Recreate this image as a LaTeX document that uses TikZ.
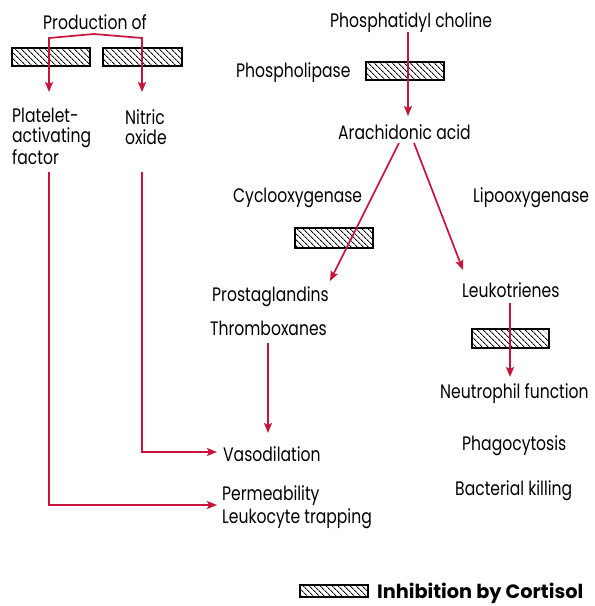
\documentclass[tikz,border=0pt]{standalone}
\usepackage{fontspec}
\setmainfont[FakeStretch=0.8]{Poppins}
\newfontfamily\legfont{Poppins}
\usetikzlibrary{arrows.meta,patterns.meta}
\definecolor{cred}{RGB}{200,20,60}
\begin{document}
\begin{tikzpicture}[x=1pt,y=-1pt,
  txt/.style={font=\fontsize{19.5}{20}\selectfont, inner sep=0pt, anchor=base west, align=left},
  hatch/.style={draw=black, line width=1.1pt, inner sep=0pt, pattern={Lines[angle=-45,distance=4pt,line width=0.9pt]}},
  arr/.style={draw=cred, line width=1.7pt, -{Stealth[length=10pt,width=8pt,inset=2pt]}},
  ln/.style={draw=cred, line width=1.7pt}]
\useasboundingbox (0,0) rectangle (595,606);
% texts
\node[txt] (prod) at (43,29) {Production of};
\node[txt] (pc) at (330,27) {Phosphatidyl choline};
\node[txt] (pl) at (236,77) {Phospholipase};
\node[txt] (aa) at (338,139) {Arachidonic acid};
\node[txt] (paf) at (12,164) {Platelet-\\activating\\factor};
\node[txt] (no) at (125,144) {Nitric\\oxide};
\node[txt] (cox) at (233,202) {Cyclooxygenase};
\node[txt] (lox) at (473,202) {Lipooxygenase};
\node[txt] (pg) at (212,301) {Prostaglandins};
\node[txt] (tx) at (210,335) {Thromboxanes};
\node[txt] (lt) at (462,297) {Leukotrienes};
\node[txt] (nf) at (440,398) {Neutrophil function};
\node[txt] (ph) at (462,450) {Phagocytosis};
\node[txt] (bk) at (455,495) {Bacterial killing};
\node[txt] (vd) at (223,461) {Vasodilation};
\node[txt, font=\fontsize{19.5}{23}\selectfont] (perm) at (222,523) {Permeability\\Leukocyte trapping};
\node[txt, font=\legfont\bfseries\fontsize{19.3}{20}\selectfont] (leg) at (377,598) {Inhibition by Cortisol};
% hatched boxes
\node[hatch, minimum width=78pt, minimum height=18pt] (b1) at (51,57) {};
\node[hatch, minimum width=79pt, minimum height=18pt] (b2) at (142.5,57) {};
\node[hatch, minimum width=78pt, minimum height=18pt] (bpl) at (405,71) {};
\node[hatch, minimum width=78pt, minimum height=20pt] (bcox) at (334,238) {};
\node[hatch, minimum width=77pt, minimum height=19pt] (blt) at (510.5,338.5) {};
\node[hatch, minimum width=68pt, minimum height=12pt] (bleg) at (334,591) {};
% coordinates
\coordinate (peak) at (94,34);
\coordinate (bl) at (49,38);
\coordinate (br) at (142,38);
\coordinate (tl) at (49,92);
\coordinate (tr) at (142,92);
\coordinate (pafs) at (49,172);
\coordinate (nos) at (142,172);
\coordinate (pafc) at (49,505);
\coordinate (noc) at (142,452);
\coordinate (permt) at (217,505);
\coordinate (vdt) at (217,452);
\coordinate (pcs) at (408,32);
\coordinate (aat) at (408,116);
\coordinate (aal) at (399,143);
\coordinate (aar) at (414,143);
\coordinate (pgt) at (330,281);
\coordinate (ltt) at (463,270);
\coordinate (txs) at (268,343);
\coordinate (txt) at (268,433);
\coordinate (lts) at (510,303);
\coordinate (nft) at (510,377);
% arrows
\draw[arr] (peak) -- (bl) -- (tl);
\draw[arr] (peak) -- (br) -- (tr);
\draw[arr] (pafs) -- (pafc) -- (permt);
\draw[arr] (nos) -- (noc) -- (vdt);
\draw[arr] (pcs) -- (aat);
\draw[arr] (aal) -- (pgt);
\draw[arr] (aar) -- (ltt);
\draw[arr] (txs) -- (txt);
\draw[arr] (lts) -- (nft);
\end{tikzpicture}
\end{document}
